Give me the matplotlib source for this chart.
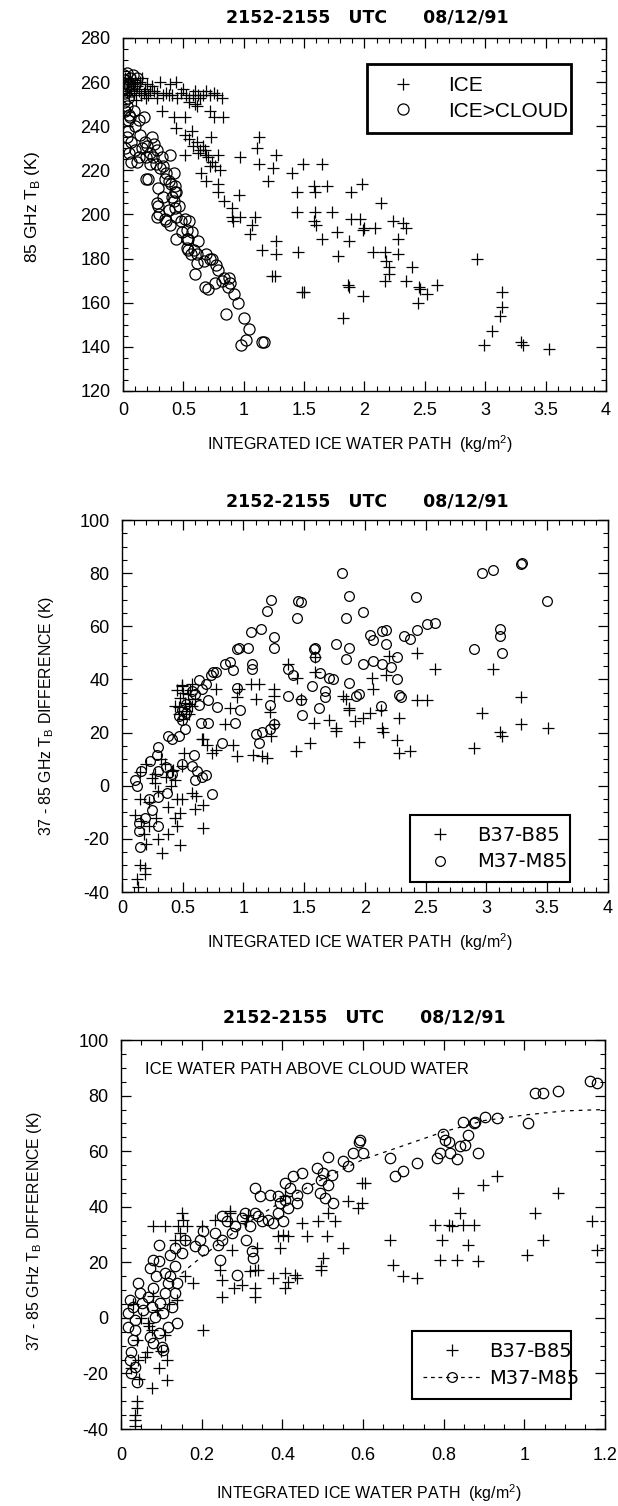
import matplotlib
matplotlib.use('Agg')
import matplotlib.pyplot as plt
from matplotlib.lines import Line2D
from matplotlib.ticker import MultipleLocator, FuncFormatter
import numpy as np

plt.rcParams['font.family'] = ['Liberation Sans', 'DejaVu Sans']
plt.rcParams['mathtext.fontset'] = 'custom'
plt.rcParams['mathtext.rm'] = 'Liberation Sans'
NARROW = ['Liberation Sans Narrow', 'Liberation Sans', 'DejaVu Sans']
WIDE = ['DejaVu Sans']

TITLE = "2152-2155   UTC      08/12/91"
XLABEL = "INTEGRATED ICE WATER PATH  (kg/m$^\\mathregular{2}$)"
YLABEL_TB = "85 GHz T$_\\mathregular{B}$ (K)"
YLABEL_DIFF = "37 - 85 GHz T$_\\mathregular{B}$ DIFFERENCE (K)"
NOTE_3 = "ICE WATER PATH ABOVE CLOUD WATER"

# ---- panel 1 : 85 GHz TB vs ice water path
p1_ice = [
    (0.02, 262), (0.04, 260), (0.06, 262), (0.08, 259), (0.10, 261), (0.12, 258), (0.14, 260),
    (0.16, 262), (0.18, 257), (0.20, 259), (0.22, 256), (0.24, 258), (0.26, 256), (0.03, 256),
    (0.05, 254), (0.07, 257), (0.09, 255), (0.11, 252), (0.13, 256), (0.15, 254), (0.17, 255),
    (0.19, 253), (0.21, 254),
    (0.28, 255), (0.31, 260), (0.33, 254), (0.36, 255), (0.39, 259), (0.41, 254), (0.44, 260),
    (0.45, 253), (0.48, 255), (0.50, 257), (0.52, 254), (0.55, 253), (0.58, 254), (0.60, 256),
    (0.62, 254), (0.64, 253), (0.66, 254), (0.69, 256), (0.72, 254), (0.75, 255), (0.78, 254),
    (0.82, 253), (0.60, 250), (0.61, 249), (0.55, 251), (0.38, 254), (0.28, 253),
    (0.32, 247), (0.42, 244), (0.51, 244), (0.44, 239), (0.57, 238), (0.51, 236), (0.61, 233),
    (0.73, 235), (0.72, 247), (0.75, 244), (0.83, 244), (0.55, 234), (0.58, 231), (0.64, 229),
    (0.66, 231), (0.69, 227), (0.51, 227), (0.62, 228), (0.68, 229), (0.79, 227), (0.72, 222),
    (0.65, 219), (0.69, 215), (0.79, 214), (0.79, 210), (0.96, 209), (0.84, 206), (0.90, 203),
    (0.90, 199), (0.97, 199), (0.91, 197), (1.07, 195), (1.09, 199), (1.05, 191), (1.15, 184),
    (1.27, 188), (1.27, 182), (0.97, 226), (0.70, 226), (0.74, 224), (0.76, 222), (0.80, 220),
    (1.13, 235), (1.11, 230), (1.27, 227), (1.13, 223), (1.24, 221), (1.20, 215), (1.40, 219),
    (1.49, 223), (1.65, 223), (1.44, 210), (1.58, 213), (1.59, 210), (1.69, 213), (1.89, 210),
    (1.98, 214), (1.44, 201), (1.59, 201), (1.73, 201), (1.58, 197), (1.60, 195), (1.65, 189),
    (1.77, 192), (1.87, 188), (1.89, 198), (1.96, 198), (1.99, 193), (1.45, 183), (1.78, 181),
    (1.23, 172), (1.26, 172),
    (2.14, 205), (2.00, 194), (2.09, 194), (2.24, 197), (2.32, 196), (2.34, 194), (2.28, 189),
    (2.07, 183), (2.17, 183), (2.28, 182), (2.18, 179), (2.39, 176), (2.93, 180), (2.20, 173),
    (2.34, 170), (2.45, 167), (2.60, 168),
    (1.48, 165), (1.50, 165), (1.86, 168), (1.87, 167), (1.99, 163), (1.82, 153), (2.44, 160),
    (2.46, 166), (2.52, 164), (2.17, 170), (2.20, 176),
    (3.14, 165), (3.14, 158), (3.12, 154), (3.06, 147), (2.99, 141), (3.30, 142), (3.31, 141),
    (3.53, 139),
]
p1_cloud = [
    (0.01, 263), (0.02, 261), (0.03, 264), (0.04, 259), (0.01, 257), (0.02, 255), (0.04, 253),
    (0.01, 251), (0.03, 249), (0.02, 247), (0.05, 245), (0.06, 262), (0.08, 263), (0.05, 258),
    (0.07, 256), (0.10, 259), (0.12, 262), (0.04, 243), (0.06, 244), (0.09, 247), (0.13, 243),
    (0.10, 240), (0.17, 244), (0.04, 238), (0.14, 236), (0.07, 233), (0.10, 229), (0.13, 226),
    (0.07, 224), (0.02, 230), (0.03, 235), (0.05, 228), (0.16, 230), (0.18, 233), (0.22, 228),
    (0.25, 226), (0.19, 226), (0.20, 231), (0.24, 235), (0.26, 232), (0.28, 229), (0.32, 226),
    (0.39, 227), (0.22, 223), (0.31, 221), (0.36, 219), (0.42, 219), (0.21, 216), (0.35, 216),
    (0.29, 212), (0.40, 214), (0.43, 210), (0.33, 208), (0.42, 206), (0.29, 204), (0.38, 202),
    (0.46, 204), (0.28, 199), (0.35, 198), (0.44, 199), (0.51, 198), (0.39, 195), (0.49, 192),
    (0.55, 197), (0.53, 189), (0.57, 192), (0.44, 189), (0.54, 184), (0.61, 182), (0.62, 188),
    (0.69, 182), (0.67, 179), (0.74, 180), (0.60, 173), (0.79, 175), (0.84, 171), (0.89, 169),
    (0.76, 169), (0.68, 167),
    (0.12, 224), (0.19, 216), (0.27, 223), (0.33, 222), (0.38, 215), (0.43, 213), (0.41, 208),
    (0.44, 210), (0.28, 205), (0.30, 200), (0.36, 197), (0.43, 203), (0.48, 197), (0.53, 193),
    (0.54, 189), (0.53, 185), (0.59, 184), (0.56, 182), (0.61, 178), (0.72, 180), (0.77, 177),
    (0.70, 166), (0.82, 170), (0.88, 171), (0.87, 167), (0.92, 164), (0.95, 160), (0.85, 155),
    (1.00, 153), (1.04, 148), (0.98, 141), (1.02, 143), (1.15, 142), (1.17, 142),
]

# ---- panel 2 : 37-85 GHz difference, full ice water path
p2_b = [
    (0.49, 37.5), (0.58, 38.1), (0.54, 34.5), (0.47, 29.7), (0.55, 30.9), (0.60, 32.7), (0.77, 36.3),
    (0.67, 17.7), (0.70, 15.3), (0.74, 12.3), (0.77, 13.5), (0.91, 15.3), (0.95, 11.1), (0.85, 23.1),
    (0.89, 29.1), (0.95, 33.3), (0.96, 36.3), (1.06, 38.1), (1.13, 38.1), (1.10, 32.7), (1.08, 11.7),
    (1.15, 11.1), (1.19, 10.5), (1.22, 27.9), (1.25, 36.3), (1.25, 33.9), (1.23, 18.9), (1.25, 23.1),
    (1.37, 45.9), (1.44, 40.5), (1.47, 32.7), (1.43, 12.9), (1.55, 15.9), (1.58, 23.7), (1.59, 48.3),
    (1.59, 42.9), (1.70, 24.9), (1.76, 21.9), (1.76, 20.7), (1.82, 33.9), (1.84, 32.7), (1.87, 29.1),
    (1.87, 28.5), (1.95, 16.5), (1.92, 24.3), (1.98, 25.5), (2.04, 27.3), (2.06, 40.5), (2.07, 36.3),
    (2.13, 28.5), (2.14, 21.9), (2.15, 20.1), (2.17, 41.7), (2.20, 48.9), (2.28, 25.5), (2.26, 17.1),
    (2.28, 12.3), (2.37, 12.9), (2.43, 50.1), (2.43, 32.1), (2.51, 32.1), (2.58, 44.1), (2.90, 14.1),
    (2.96, 27.3), (3.05, 44.1), (3.11, 20.1), (3.13, 18.9), (3.28, 33.3), (3.28, 23.1), (3.51, 21.9),
    (0.19, -30.8), (0.19, -33.2), (0.33, -25.4), (0.48, -22.4), (0.38, -18.2), (0.45, -15.2),
    (0.67, -15.8), (0.60, -8.6), (0.67, -7.4), (0.61, -3.8), (0.58, -2.6), (0.49, -5.0), (0.48, -10.4),
    (0.44, -12.2), (0.15, -5.0), (0.16, -13.4), (0.18, -18.2), (0.11, -11.0), (0.22, -6.2), (0.27, 1.0),
    (0.36, 3.4), (0.51, 12.3), (0.66, 17.7), (0.49, 7.5), (0.41, 5.7), (0.27, 4.5), (0.44, 2.2),
    (0.45, 36), (0.48, 33), (0.50, 35), (0.52, 31), (0.47, 27), (0.50, 25), (0.53, 28), (0.56, 36),
    (0.58, 30), (0.44, 30), (0.49, 38), (0.55, 27),
    (0.15, 5), (0.20, 8), (0.25, 3), (0.30, -2), (0.35, 8), (0.40, 0), (0.45, -5), (0.38, -8),
    (0.28, -12), (0.22, -15), (0.32, 10), (0.42, 6),
    (0.12, -35), (0.13, -38), (0.15, -30), (0.20, -22), (0.30, -20),
]
p2_m = [
    (1.81, 80.0), (2.96, 80.0), (3.05, 81.2), (3.28, 83.6), (3.29, 83.8), (3.50, 69.5), (1.23, 69.8),
    (1.19, 65.6), (1.44, 63.2), (1.45, 69.5), (1.47, 69.3), (1.87, 71.4), (1.84, 63.2), (1.98, 65.4),
    (2.42, 71.1), (1.06, 57.8), (1.14, 59.0), (1.25, 56.0), (1.25, 51.9), (1.59, 51.9), (1.59, 48.3),
    (1.76, 53.5), (1.87, 51.9), (1.84, 47.7), (1.98, 45.9), (2.04, 56.6), (2.07, 54.8), (2.14, 58.4),
    (2.17, 58.6), (2.17, 53.5), (2.07, 47.1), (2.14, 45.9), (2.21, 44.7), (2.26, 48.3), (2.26, 40.2),
    (2.32, 56.3), (2.37, 55.4), (2.43, 58.6), (2.51, 60.8), (2.58, 61.4), (2.90, 51.5), (3.11, 59.0),
    (3.11, 56.3), (3.13, 49.8), (1.37, 44.1), (1.41, 41.7), (1.58, 51.3), (1.63, 42.3), (1.70, 40.5),
    (1.74, 40.2), (1.87, 38.7), (1.95, 34.5), (1.93, 33.9), (2.13, 29.9), (2.28, 34.2), (2.30, 33.3),
    (1.37, 33.9), (1.47, 32.1), (1.48, 26.7), (1.56, 37.5), (1.62, 29.1), (1.67, 35.7), (1.67, 33.3),
    (1.22, 30.3), (0.95, 36.9), (0.97, 28.5), (0.93, 23.7), (1.25, 23.1), (1.10, 19.5), (1.15, 20.1),
    (1.22, 21.3), (1.13, 15.9), (0.82, 15.9), (0.89, 46.5), (0.91, 43.5), (0.77, 42.9), (0.85, 45.9),
    (0.95, 51.3), (0.96, 51.9), (1.04, 51.9), (1.07, 45.9), (1.07, 44.1), (0.69, 38.1), (0.75, 42.9),
    (0.78, 29.7), (0.71, 23.7), (0.71, 32.1), (0.59, 11.7), (0.49, 24.9), (0.52, 21.3), (0.47, 18.9),
    (0.38, 18.9), (0.41, 17.7), (0.30, 14.7), (0.29, 11.7), (0.23, 9.3), (0.16, 5.7), (0.11, 2.2),
    (0.12, -0.2), (0.30, 5.7), (0.36, 6.9), (0.41, 4.5), (0.49, 8.1), (0.58, 7.5), (0.62, 5.7),
    (0.66, 3.4), (0.60, 2.2), (0.69, 4.0), (0.74, -3.2), (0.22, -5.0), (0.30, -4.4), (0.37, -2.6),
    (0.30, -15.2), (0.25, -9.2), (0.19, -12.2), (0.14, -17.0), (0.15, -23.0), (0.14, -14.0),
    (0.60, 34.5), (0.63, 30.3), (0.53, 27.3), (0.49, 28.5), (0.65, 23.7), (0.58, 35.7), (0.66, 36.3),
    (0.47, 26.1), (0.53, 30.9), (0.63, 39.9), (0.73, 41.7),
]

# ---- panel 3 : 37-85 GHz difference, ice water path above cloud water
p3_b = [
    (0.080, 32.9), (0.109, 32.9), (0.150, 37.7), (0.154, 35.3), (0.142, 32.9), (0.146, 30.5),
    (0.159, 28.1), (0.134, 28.1), (0.163, 32.9), (0.200, 32.9), (0.159, 14.9), (0.179, 12.5),
    (0.138, 6.5), (0.204, -4.3), (0.068, -1.9), (0.076, -4.3), (0.064, -12.1), (0.043, -15.1),
    (0.093, -18.1), (0.113, -15.1), (0.113, -22.3), (0.076, -25.3), (0.039, -30.0), (0.039, -32.4),
    (0.035, -34.8), (0.035, -36.6), (0.035, -39.0), (0.233, 35.3), (0.245, 17.3), (0.250, 13.7),
    (0.250, 7.7), (0.270, 37.7), (0.270, 34.7), (0.274, 24.5), (0.279, 10.7), (0.299, 11.9),
    (0.320, 16.7), (0.332, 17.3), (0.336, 25.1), (0.340, 17.3), (0.332, 10.7), (0.332, 7.7),
    (0.311, 34.7), (0.315, 37.1), (0.378, 14.3), (0.390, 29.3), (0.402, 29.9), (0.415, 29.3),
    (0.394, 25.1), (0.407, 16.1), (0.407, 10.7), (0.415, 13.1), (0.431, 15.5), (0.436, 14.3),
    (0.448, 34.1), (0.460, 29.3), (0.489, 34.7), (0.510, 29.3), (0.530, 34.7), (0.551, 25.1),
    (0.497, 18.5), (0.502, 21.5), (0.497, 17.3), (0.514, 37.7), (0.564, 41.9), (0.588, 39.5),
    (0.597, 48.5), (0.407, 43.7), (0.270, 38.3),
    (0.605, 48.5), (0.597, 41.3), (0.667, 28.1), (0.675, 19.1), (0.700, 14.9), (0.733, 14.3),
    (0.779, 33.5), (0.812, 33.5), (0.820, 32.9), (0.849, 33.5), (0.874, 33.5), (0.840, 37.7),
    (0.836, 44.9), (0.898, 47.9), (0.931, 50.9), (0.795, 28.1), (0.861, 26.3), (0.791, 20.9),
    (0.832, 20.9), (0.886, 20.3), (1.006, 22.7), (1.027, 37.7), (1.047, 28.1), (1.084, 45.1),
    (1.167, 34.9), (1.179, 24.5),
    (0.030, 5), (0.050, 0), (0.070, -3), (0.090, 3), (0.110, -6), (0.040, -8), (0.060, -14),
    (0.100, -12), (0.025, -18), (0.045, -22), (0.080, 8), (0.120, 5),
]
p3_m = [
    (0.590, 63.4), (0.576, 59.2), (0.514, 57.8), (0.551, 56.3), (0.564, 54.5), (0.485, 53.9),
    (0.502, 52.1), (0.522, 51.5), (0.497, 49.7), (0.514, 47.9), (0.493, 44.9), (0.506, 43.1),
    (0.526, 41.3), (0.448, 52.1), (0.427, 50.9), (0.407, 48.5), (0.419, 46.7), (0.460, 46.7),
    (0.436, 44.3), (0.332, 46.7), (0.345, 43.7), (0.369, 44.3), (0.390, 43.7), (0.407, 42.5),
    (0.394, 41.3), (0.436, 41.3), (0.415, 39.5), (0.390, 37.7), (0.402, 34.7), (0.365, 35.3),
    (0.349, 34.7), (0.332, 37.7), (0.307, 37.7), (0.299, 35.9), (0.320, 32.9), (0.311, 28.1),
    (0.324, 23.9), (0.328, 21.5), (0.283, 32.9), (0.274, 30.5), (0.262, 34.7), (0.250, 36.5),
    (0.233, 30.5), (0.250, 28.1), (0.241, 26.3), (0.245, 20.9), (0.287, 15.5), (0.340, 36.5),
    (0.378, 34.1), (0.204, 31.1), (0.196, 28.1), (0.204, 24.5), (0.183, 25.7), (0.159, 28.1),
    (0.150, 23.3), (0.134, 25.1), (0.121, 22.7), (0.093, 26.3), (0.080, 20.9), (0.093, 20.3),
    (0.072, 17.9), (0.088, 14.9), (0.109, 16.1), (0.134, 18.5), (0.121, 14.9), (0.117, 12.5),
    (0.138, 12.5), (0.134, 8.9), (0.109, 8.9), (0.080, 10.7), (0.043, 12.5), (0.022, 6.5),
    (0.030, 4.1), (0.051, 5.3), (0.018, 1.7), (0.035, -0.7), (0.055, 2.9), (0.076, 4.1),
    (0.084, 0.5), (0.097, 5.3), (0.105, 1.7), (0.126, 4.1), (0.138, -1.9), (0.117, -3.1),
    (0.093, -5.5), (0.072, -6.7), (0.080, -9.1), (0.101, -10.3), (0.105, -11.5), (0.035, -4.3),
    (0.030, -7.9), (0.026, -12.1), (0.022, -15.1), (0.035, -17.5), (0.039, -22.9), (0.026, -19.9),
    (0.018, -3.1), (0.047, 8.9), (0.068, 7.7),
    (0.593, 64.0), (0.600, 59.2), (0.667, 57.4), (0.679, 50.9), (0.700, 52.7), (0.733, 55.9),
    (0.783, 57.4), (0.791, 59.2), (0.816, 59.2), (0.832, 57.1), (0.840, 61.9), (0.853, 62.2),
    (0.799, 66.1), (0.803, 64.0), (0.812, 63.4), (0.861, 65.8), (0.886, 59.2), (0.849, 70.6),
    (0.874, 70.0), (0.878, 70.6), (0.903, 72.4), (0.931, 71.8), (1.010, 70.0), (1.027, 80.8),
    (1.047, 80.8), (1.084, 81.8), (1.163, 85.4), (1.179, 84.4),
]
# dashed fit curve for M37-M85 in panel 3
fit_x = [0.15, 0.20, 0.30, 0.40, 0.50, 0.60, 0.70, 0.80, 0.90, 1.00, 1.10, 1.20]
fit_y = [16, 22, 33, 42, 50, 57, 62, 67, 71, 73, 74.5, 75]


def fmt(v, pos):
    return '%g' % v


def style_axes(ax, xlim, ylim, xmaj, xmin, ymaj, ymin, xpad):
    ax.set_xlim(*xlim)
    ax.set_ylim(*ylim)
    ax.xaxis.set_major_locator(MultipleLocator(xmaj))
    ax.xaxis.set_minor_locator(MultipleLocator(xmin))
    ax.yaxis.set_major_locator(MultipleLocator(ymaj))
    ax.yaxis.set_minor_locator(MultipleLocator(ymin))
    ax.xaxis.set_major_formatter(FuncFormatter(fmt))
    ax.yaxis.set_major_formatter(FuncFormatter(fmt))
    ax.tick_params(which='both', direction='in', top=True, right=True, labelsize=13)
    ax.tick_params(which='major', length=7, width=0.9)
    ax.tick_params(which='minor', length=3.5, width=0.8)
    ax.tick_params(axis='x', pad=xpad)
    ax.tick_params(axis='y', pad=9)
    for s in ax.spines.values():
        s.set_linewidth(1.0)


def plus_handle(ms):
    return Line2D([], [], ls='none', marker='+', color='k', ms=ms, mew=0.9)


def circ_handle(ms):
    return Line2D([], [], ls='none', marker='o', mfc='none', mec='k', ms=ms, mew=0.9)


fig = plt.figure(figsize=(6.18, 15.06), dpi=100)

# ---------------- panel 1
ax1 = fig.add_axes([0.199, 0.7404, 0.7816, 0.2344])
a = np.array(p1_ice)
b = np.array(p1_cloud)
ax1.plot(a[:, 0], a[:, 1], ls='none', marker='+', color='k', ms=9, mew=0.9)
ax1.plot(b[:, 0], b[:, 1], ls='none', marker='o', mfc='none', mec='k', ms=8, mew=0.9)
style_axes(ax1, (0, 4), (120, 280), 0.5, 0.1, 20, 5, 8)
ax1.set_ylabel(YLABEL_TB, fontsize=12.5)
ax1.yaxis.set_label_coords(-0.168, 0.52)
ax1.set_xlabel(XLABEL, fontsize=11.5, family=NARROW)
ax1.xaxis.set_label_coords(0.49, -0.15)
ax1.xaxis.label.set_va('center')
leg = ax1.legend([plus_handle(9), circ_handle(8)], ['ICE', 'ICE>CLOUD'],
                 bbox_to_anchor=(0.484, 0.725, 0.466, 0.207), loc='center', mode='expand',
                 fancybox=False, edgecolor='k', framealpha=1, borderpad=0.6,
                 handlelength=2.2, handletextpad=1.1, labelspacing=0.3,
                 prop={'family': NARROW, 'size': 15})
leg.get_frame().set_linewidth(2.0)
fig.text(0.595, 1 - 17 / 1506, TITLE, ha='center', va='center', fontsize=12.5,
         fontweight='bold', family=WIDE)

# ---------------- panel 2
ax2 = fig.add_axes([0.1974, 0.4077, 0.7864, 0.2470])
a = np.array(p2_b)
b = np.array(p2_m)
ax2.plot(a[:, 0], a[:, 1], ls='none', marker='+', color='k', ms=8, mew=0.9)
ax2.plot(b[:, 0], b[:, 1], ls='none', marker='o', mfc='none', mec='k', ms=7, mew=0.9)
style_axes(ax2, (0, 4), (-40, 100), 0.5, 0.1, 20, 5, 6)
ax2.set_ylabel(YLABEL_DIFF, fontsize=11.4, family=NARROW)
ax2.yaxis.set_label_coords(-0.135, 0.473)
ax2.set_xlabel(XLABEL, fontsize=11.5, family=NARROW)
ax2.xaxis.set_label_coords(0.49, -0.135)
ax2.xaxis.label.set_va('center')
leg = ax2.legend([plus_handle(8), circ_handle(7)], ['B37-B85', 'M37-M85'],
                 bbox_to_anchor=(0.572, 0.019, 0.370, 0.196), loc='center', mode='expand',
                 fancybox=False, edgecolor='k', framealpha=1, borderpad=0.55,
                 handlelength=2.0, handletextpad=0.9, labelspacing=0.4,
                 prop={'family': WIDE, 'size': 14})
leg.get_frame().set_linewidth(1.5)
fig.text(0.595, 1 - 502 / 1506, TITLE, ha='center', va='center', fontsize=12.5,
         fontweight='bold', family=WIDE)

# ---------------- panel 3
ax3 = fig.add_axes([0.1958, 0.0511, 0.7832, 0.2583])
a = np.array(p3_b)
b = np.array(p3_m)
ax3.plot(fit_x, fit_y, ls=(0, (3, 4)), color='k', lw=0.9)
ax3.plot(a[:, 0], a[:, 1], ls='none', marker='+', color='k', ms=8, mew=0.9)
ax3.plot(b[:, 0], b[:, 1], ls='none', marker='o', mfc='none', mec='k', ms=7.5, mew=0.9)
style_axes(ax3, (0, 1.2), (-40, 100), 0.2, 0.05, 20, 5, 13)
ax3.set_ylabel(YLABEL_DIFF, fontsize=11.4, family=NARROW)
ax3.yaxis.set_label_coords(-0.16, 0.509)
ax3.set_xlabel(XLABEL, fontsize=11.5, family=NARROW)
ax3.xaxis.set_label_coords(0.512, -0.165)
ax3.xaxis.label.set_va('center')
ax3.text(0.05, 0.923, NOTE_3, transform=ax3.transAxes, ha='left', va='center',
         fontsize=12, family=NARROW)
dash_circ = Line2D([], [], ls=(0, (3, 3)), lw=0.9, color='k', marker='o', mfc='none',
                   mec='k', ms=7, mew=0.9)
leg = ax3.legend([plus_handle(8), dash_circ], ['B37-B85', 'M37-M85'],
                 bbox_to_anchor=(0.581, 0.069, 0.369, 0.191), loc='center', mode='expand',
                 fancybox=False, edgecolor='k', framealpha=1, borderpad=0.55,
                 handlelength=3.0, handletextpad=0.4, labelspacing=0.4,
                 prop={'family': WIDE, 'size': 14})
leg.get_frame().set_linewidth(1.5)
fig.text(0.59, 1 - 1017 / 1506, TITLE, ha='center', va='center', fontsize=12.5,
         fontweight='bold', family=WIDE)

fig.savefig('out.png', dpi=100)
